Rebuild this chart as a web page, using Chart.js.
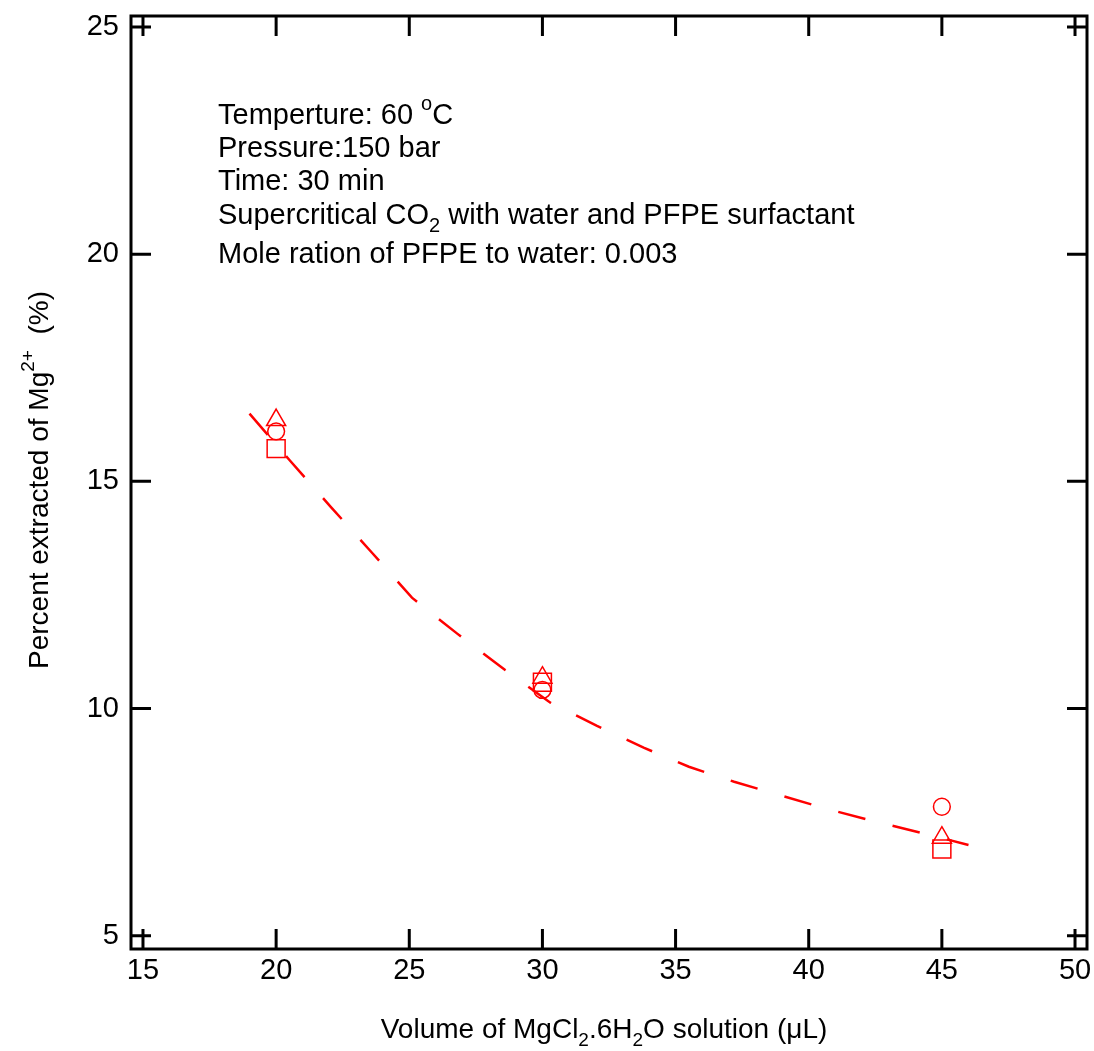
<!DOCTYPE html>
<html><head><meta charset="utf-8">
<script src="https://cdn.jsdelivr.net/npm/chart.js@4/dist/chart.umd.min.js"></script>
<style>html,body{margin:0;padding:0;background:#fff;overflow:hidden}#wrap{width:1094px;height:1051px}canvas{display:block}</style>
</head><body><div id="wrap"><canvas id="c" width="1094" height="1051"></canvas></div>
<script>
const volumes = [20, 30, 45];
const triangleVals = [16.35, 10.68, 7.16];
const circleVals = [16.10, 10.41, 7.84];
const squareVals = [15.72, 10.58, 6.91];
const fitX = [19.0, 20.5, 22.05, 23.6, 25.1, 26.8, 28.6, 30.3, 32.05, 33.8, 35.5, 37.2, 39.0, 40.7, 42.4, 44.2, 46.0];
const fitY = [16.49, 15.47, 14.44, 13.43, 12.44, 11.65, 10.85, 10.13, 9.62, 9.14, 8.72, 8.39, 8.08, 7.79, 7.53, 7.27, 7.00];
const xTicks = [15, 20, 25, 30, 35, 40, 45, 50];
const yTicks = [5, 10, 15, 20, 25];
const annotationLines = [
  [{t: 'Temperture: 60 '}, {t: 'o', sup: true}, {t: 'C'}],
  [{t: 'Pressure:150 bar'}],
  [{t: 'Time: 30 min'}],
  [{t: 'Supercritical CO'}, {t: '2', sub: true}, {t: ' with water and PFPE surfactant'}],
  [{t: 'Mole ration of PFPE to water: 0.003'}]
];
const xTitle = [{t: 'Volume of MgCl'}, {t: '2', sub: true}, {t: '.6H'}, {t: '2', sub: true}, {t: 'O solution (\u03bcL)'}];
const yTitle = [{t: 'Percent extracted of Mg'}, {t: '2+', sup: true}, {t: '  (%)'}];

const FONT = "'Liberation Sans', Arial, sans-serif";
const FS = 29;
const TFS = 28;
const RED = '#ff0000';

function pts(xs, ys) { return xs.map((x, i) => ({x: x, y: ys[i]})); }

function drawRich(ctx, segs, x, y, align, size) {
  let total = 0;
  const ws = segs.map(s => {
    const fs = (s.sub || s.sup) ? Math.round(size * 0.68) : size;
    ctx.font = fs + 'px ' + FONT;
    const w = ctx.measureText(s.t).width;
    total += w;
    return {w, fs};
  });
  let cx = align === 'center' ? x - total / 2 : x;
  ctx.textAlign = 'left';
  ctx.textBaseline = 'alphabetic';
  segs.forEach((s, i) => {
    ctx.font = ws[i].fs + 'px ' + FONT;
    const dy = s.sub ? size * 0.28 : (s.sup ? -size * 0.5 : 0);
    ctx.fillText(s.t, cx, y + dy);
    cx += ws[i].w;
  });
}

const decor = {
  id: 'decor',
  afterDatasetsDraw(chart) {
    const ctx = chart.ctx;
    const a = chart.chartArea;
    const xs = chart.scales.x, ys = chart.scales.y;
    ctx.save();
    ctx.strokeStyle = '#000';
    ctx.lineWidth = 3;
    ctx.strokeRect(a.left, a.top, a.right - a.left, a.bottom - a.top);
    const TL = 20;
    ctx.beginPath();
    xTicks.forEach(v => {
      const p = xs.getPixelForValue(v);
      ctx.moveTo(p, a.bottom); ctx.lineTo(p, a.bottom - TL);
      ctx.moveTo(p, a.top); ctx.lineTo(p, a.top + TL);
    });
    yTicks.forEach(v => {
      const p = ys.getPixelForValue(v);
      ctx.moveTo(a.left, p); ctx.lineTo(a.left + TL, p);
      ctx.moveTo(a.right, p); ctx.lineTo(a.right - TL, p);
    });
    ctx.stroke();
    ctx.fillStyle = '#000';
    ctx.font = FS + 'px ' + FONT;
    ctx.textBaseline = 'middle';
    ctx.textAlign = 'center';
    xTicks.forEach(v => ctx.fillText(String(v), xs.getPixelForValue(v), a.bottom + 22));
    ctx.textAlign = 'right';
    yTicks.forEach(v => ctx.fillText(String(v), a.left - 12, ys.getPixelForValue(v)));
    const baselines = [124, 157, 190, 224, 263];
    annotationLines.forEach((ln, i) => drawRich(ctx, ln, 218, baselines[i], 'left', FS));
    drawRich(ctx, xTitle, 604, 1038, 'center', TFS);
    ctx.translate(48, 480);
    ctx.rotate(-Math.PI / 2);
    drawRich(ctx, yTitle, 0, 0, 'center', TFS);
    ctx.restore();
  }
};

new Chart(document.getElementById('c'), {
  type: 'scatter',
  data: {
    datasets: [
      {label: 'fit', data: pts(fitX, fitY), showLine: true, borderColor: RED, borderWidth: 2.5,
       borderDash: [28, 28], pointRadius: 0, tension: 0, fill: false},
      {label: 'triangle', data: pts(volumes, triangleVals), pointStyle: 'triangle', pointRadius: 11,
       borderColor: RED, backgroundColor: 'rgba(0,0,0,0)', pointBorderWidth: 1.5},
      {label: 'circle', data: pts(volumes, circleVals), pointStyle: 'circle', pointRadius: 8.4,
       borderColor: RED, backgroundColor: 'rgba(0,0,0,0)', pointBorderWidth: 1.5},
      {label: 'square', data: pts(volumes, squareVals), pointStyle: 'rect', pointRadius: 12.7,
       borderColor: RED, backgroundColor: 'rgba(0,0,0,0)', pointBorderWidth: 1.5}
    ]
  },
  options: {
    responsive: false,
    animation: false,
    layout: {autoPadding: false, padding: {left: 0, top: 16, right: 7, bottom: 0}},
    plugins: {legend: {display: false}, tooltip: {enabled: false}},
    scales: {
      x: {
        type: 'linear', min: 14.55, max: 50.45,
        afterBuildTicks: s => { s.ticks = xTicks.map(v => ({value: v})); },
        afterFit: s => { s.height = 102; },
        grid: {display: false}, border: {display: false},
        ticks: {display: false}
      },
      y: {
        type: 'linear', min: 4.71, max: 25.24,
        afterBuildTicks: s => { s.ticks = yTicks.map(v => ({value: v})); },
        afterFit: s => { s.width = 131; },
        grid: {display: false}, border: {display: false},
        ticks: {display: false}
      }
    }
  },
  plugins: [decor]
});
</script></body></html>
